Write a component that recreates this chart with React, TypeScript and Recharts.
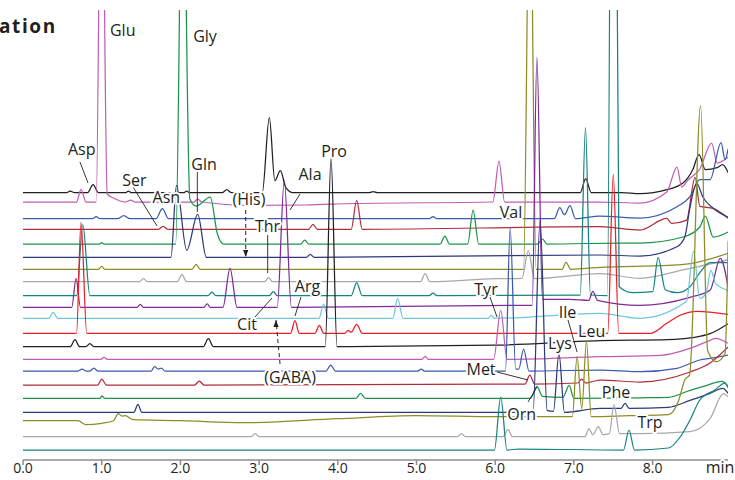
import React from 'react';
import { LineChart, Line, XAxis, YAxis, ReferenceLine, ReferenceDot } from 'recharts';

type Pt = [number, number];

const FONT = "'Open Sans', 'Noto Sans', sans-serif";
const INK = '#231f20';

// retention time (min) vs. signal above each run's own baseline, top run first
const run01: Pt[] = [[0, 0], [0.55, 0], [0.6, 1.5], [0.66, 0], [0.82, 0], [0.89, 8], [0.96, 0], [1.3, 0], [1.34, 1.5], [1.38, 0], [2.04, 0], [2.08, 1.5], [2.12, 0], [2.53, 0], [2.59, 3], [2.65, 0], [3.04, 0], [3.13, 75], [3.2, 12], [3.27, 22], [3.34, 5], [3.43, 0], [4.4, 0], [4.45, 1], [4.5, 0], [7.08, 0], [7.15, 14], [7.22, 0], [7.6, 0], [7.84, -1], [8.18, 3], [8.39, 10], [8.51, 23], [8.59, 38], [8.67, 23], [8.82, 25], [8.89, 28], [8.96, 20]];
const run02: Pt[] = [[0, 0], [0.68, 0], [0.737, 12.7], [0.8, 0], [0.93, 0], [0.997, 420], [1.07, 8], [1.15, 4], [1.3, 0], [1.37, 2], [1.42, 0], [2.17, 0], [2.22, 3], [2.27, 0], [2.9, -3.5], [3.6, -3], [4.2, -1.5], [5.97, 0], [6.048, 41], [6.12, 0], [7.33, 0], [7.84, -1], [8.18, 10], [8.31, 35], [8.37, 15], [8.45, 22], [8.6, 33], [8.75, 59], [8.82, 39], [8.96, 45]];
const run03: Pt[] = [[0, 0], [0.88, 0], [0.93, 2], [0.98, 0], [1.2, 0], [1.28, 3], [1.36, 0], [1.69, 0], [1.77, 10], [1.85, 0], [5.16, 0], [5.21, 2], [5.26, 0], [6.75, 0], [6.82, 11], [6.88, 4], [6.95, 13], [7.02, 0], [7.33, 2.5], [7.84, 0.7], [8.31, 12], [8.475, 22], [8.6, 39], [8.73, 39], [8.87, 76], [8.92, 59], [8.96, 70]];
const run04: Pt[] = [[0, 0], [1.72, 0], [1.78, 3], [1.84, 0], [3.63, 0], [3.685, 5], [3.74, 0], [4.17, 0], [4.24, 29], [4.31, 0], [7.33, 2.6], [7.84, -0.7], [8.18, 11], [8.24, 6], [8.43, 9], [8.54, 52], [8.6, 23], [8.77, 21], [8.96, 11]];
const run05: Pt[] = [[0, 0], [0.97, 0], [1.0, 1.5], [1.03, 0], [1.94, 0], [2.03, 420], [2.12, 45], [2.2, 38], [2.38, 47], [2.47, 10], [2.55, 0], [3.53, 0], [3.58, 4], [3.63, 0], [5.3, 0], [5.36, 8], [5.42, 0], [5.65, 0], [5.72, 34], [5.79, 0], [6.54, 0], [6.6, 5], [6.66, 0], [7.6, 1], [7.84, 1], [8.39, 7], [8.6, 17], [8.67, 28], [8.77, 7], [8.96, 12]];
const run06: Pt[] = [[0, 0], [1.88, 0], [1.95, 72], [2.08, 7], [2.22, 43], [2.33, 0], [3.6, 0], [3.65, 3], [3.7, 0], [7.33, 2.3], [7.84, 1.3], [8.31, 10.6], [8.41, 20.6], [8.475, 50], [8.56, 74], [8.64, 60], [8.77, 49], [8.96, 40]];
const run07: Pt[] = [[0, 0], [0.96, 0], [1.0, 3], [1.04, 0], [2.15, 0], [2.2, 5], [2.25, 0], [6.36, 0], [6.44, 420], [6.52, 0], [6.85, 0], [6.9, 7], [6.96, 0], [7.33, 2], [8.2, 4], [8.5, 6], [8.96, 16]];
const run08: Pt[] = [[0, 0], [1.48, 0], [1.53, 3], [1.58, 0], [1.96, 0], [2.02, 7], [2.08, 0], [3.07, 0], [3.12, 4], [3.17, 0], [5.05, 0], [5.11, 8], [5.17, 0], [6.0, 3], [6.34, 3.4], [6.42, 31], [6.5, 3], [7.33, 8], [7.84, 3.4], [8.4, 12], [8.96, 22]];
const run09: Pt[] = [[0, 0], [0.68, 0], [0.76, 71], [0.85, 0], [2.35, 0], [2.4, 3.5], [2.45, 0], [3.13, 0], [3.18, 4], [3.23, 0], [4.17, 0], [4.24, 13], [4.31, 0], [5.16, 0], [5.21, 2.5], [5.26, 0], [7.08, 0.7], [7.147, 168], [7.21, 0.7], [7.425, 0], [7.5, 900], [7.575, 9], [7.75, 3], [8.0, 4], [8.07, 38], [8.16, 6], [8.31, 3], [8.475, 9], [8.6, 23], [8.73, 33], [8.96, 33]];
const run10: Pt[] = [[0, 0], [0.62, 0], [0.674, 29], [0.73, 0], [1.45, 0], [1.49, 3], [1.53, 0], [2.3, 0], [2.34, 3.5], [2.38, 0], [2.54, 0], [2.63, 39], [2.72, 0], [3.23, 0], [3.32, 127], [3.41, 0], [6.2, 2], [6.47, 2], [6.53, 250], [6.6, 8], [6.95, 8], [7.19, 7], [7.24, 16], [7.3, 7], [7.84, 2], [8.475, 10], [8.73, 17], [8.86, 49], [8.96, 20]];
const run11: Pt[] = [[0, 0], [0.33, 0], [0.385, 6], [0.44, 0], [3.76, 0], [3.82, 14], [3.88, 0], [4.7, 0], [4.76, 20], [4.83, 0], [5.91, 0], [5.95, 3], [5.99, 0], [7.33, 5], [7.84, 0], [8.43, 17], [8.52, 67], [8.6, 20], [8.68, 25], [8.74, 48], [8.8, 35], [8.96, 28]];
const run12: Pt[] = [[0, 0], [0.68, 0], [0.737, 111], [0.81, 0], [3.4, 0], [3.456, 12.6], [3.51, 0], [3.71, 0], [3.765, 8], [3.82, 0], [4.09, 0], [4.13, 3], [4.17, 1], [4.24, 9], [4.31, 0], [7.43, 0], [7.5, 159], [7.57, 0], [7.97, 0], [8.18, 10], [8.35, 18], [8.56, 22], [8.96, 19]];
const run13: Pt[] = [[0, 0], [0.6, 0], [0.66, 7], [0.72, 0], [0.8, 0], [0.85, 3], [0.9, 0], [2.29, 0], [2.355, 8], [2.42, 0], [3.84, 0], [3.914, 189], [3.99, 0], [6.0, 1.5], [7.33, 6], [8.2, 7], [8.5, 9], [8.73, 13], [8.96, 23]];
const run14: Pt[] = [[0, 0], [0.99, 0], [1.03, 2], [1.07, 0], [5.07, 0], [5.11, 3], [5.15, 0], [5.98, 0], [6.07, 49], [6.15, 0], [7.33, 2.6], [8.1, 4], [8.475, 11], [8.73, 19], [8.8, 21], [8.96, 16]];
const run15: Pt[] = [[0, 0], [0.7, 0], [0.75, 2], [0.8, 0], [0.85, 0], [0.9, 3], [0.95, 0], [1.63, 0], [1.67, 4.3], [1.72, 2], [1.76, 3], [1.8, 0], [3.85, 0], [3.91, 6], [3.97, 0], [5.02, 0], [5.06, 2], [5.1, 0], [6.13, 0], [6.19, 143], [6.26, 2], [6.3, 2], [6.36, 22], [6.43, 0], [7.33, 1], [7.84, -0.7], [8.31, 2.7], [8.6, 11], [8.73, 12.7], [8.96, 16]];
const run16: Pt[] = [[0, 0], [0.95, 0], [1.0, 6], [1.06, 0], [2.18, 0], [2.24, 4], [2.3, 0], [6.0, 1], [6.38, 1], [6.44, 10], [6.5, 1], [7.05, 2], [7.1, 6], [7.15, 2], [7.33, 5], [7.84, 3], [8.475, 13], [8.73, 22], [8.96, 38]];
const run17: Pt[] = [[0, 0], [0.98, 0], [1.0, 2.5], [1.04, 0], [4.23, 0], [4.29, 5], [4.35, 0], [6.45, 0], [6.53, 12], [6.6, 2], [6.86, 1], [6.94, 13], [7.0, 0], [7.84, 0.5], [8.2, 1], [8.475, 8], [8.65, 12], [8.88, 17], [8.96, 12]];
const run18: Pt[] = [[0, 0], [1.41, 0], [1.46, 8], [1.51, 0], [6.48, 0], [6.57, 192], [6.66, 2], [6.74, 1], [6.81, 59], [6.88, 0], [7.33, 4], [7.6, 4], [7.65, 9], [7.7, 4], [8.2, 5], [8.475, 12], [8.73, 19], [8.89, 24], [8.96, 19]];
const run19: Pt[] = [[0, 0], [0.7, 0], [0.8, -4], [1.0, -2.6], [1.15, 0], [1.21, 7], [1.26, 4.7], [1.3, 5], [1.4, 1], [2.0, 0], [2.8, -2], [4.0, 2], [5.0, 5], [6.0, 4], [6.98, 4], [7.04, 64], [7.1, 12], [7.16, 79], [7.22, 4], [7.7, 5], [8.2, 6], [8.33, 20], [8.41, 41], [8.47, 46], [8.61, 315], [8.7, 70], [8.81, 59], [8.92, 67], [8.96, 180]];
const run20: Pt[] = [[0, 0], [2.9, 0], [2.95, 3], [3.0, 0], [5.52, 0], [5.57, 3], [5.62, 0], [6.1, 0], [6.16, 7], [6.22, 0], [7.14, 0], [7.19, 8], [7.24, 2], [7.31, 10], [7.37, 2], [7.45, 3], [7.51, 32], [7.58, 3], [7.84, 3], [8.475, 5], [8.73, 18], [8.9, 43], [8.96, 40]];
const run21: Pt[] = [[0, 0], [5.99, 0], [6.07, 53], [6.15, 0], [6.3, 1], [7.63, 0], [7.7, 20], [7.77, 0], [8.2, 2], [8.35, 13], [8.475, 30], [8.6, 50], [8.79, 60], [8.92, 67], [8.96, 62]];

const runs = [run01, run02, run03, run04, run05, run06, run07, run08, run09, run10, run11, run12, run13, run14, run15, run16, run17, run18, run19, run20, run21];

// vertical stacking of the runs (signal units), same order as runs
const runOffsets = [267.3, 258, 241.3, 230.7, 216, 202.7, 190.7, 178.3, 164.3, 152.7, 141.7, 126.7, 113.3, 100.7, 89, 75, 61.7, 47.7, 39.3, 23.3, 10];

const runColors = [
  INK, '#c25db5', '#3b5bb0', '#b02e3a', '#1d9548', '#2b3a7a', '#8d8c25',
  '#a8a8a8', '#168482', '#7f2a96', '#6dc8dc', '#ee1c25', INK, '#c25db5',
  '#3b5bb0', '#b02e3a', '#1d9548', '#2b3a7a', '#8d8c25', '#a8a8a8', '#168482',
];

const timeTicks = [0, 1, 2, 3, 4, 5, 6, 7, 8];

// peak names, placed in (time, signal) units
const peakNames = [
  { text: 'Asp', t: 0.746, v: 305 },
  { text: 'Glu', t: 1.267, v: 424 },
  { text: 'Gly', t: 2.313, v: 418 },
  { text: 'Ser', t: 1.414, v: 274 },
  { text: 'Asn', t: 1.821, v: 257 },
  { text: 'Gln', t: 2.3, v: 290 },
  { text: '(His)', t: 2.872, v: 255 },
  { text: 'Thr', t: 3.107, v: 228 },
  { text: 'Ala', t: 3.647, v: 280 },
  { text: 'Pro', t: 3.952, v: 303 },
  { text: 'Arg', t: 3.615, v: 168 },
  { text: 'Cit', t: 2.846, v: 130 },
  { text: '(GABA)', t: 3.393, v: 77 },
  { text: 'Tyr', t: 5.883, v: 165 },
  { text: 'Val', t: 6.201, v: 242 },
  { text: 'Met', t: 5.82, v: 85 },
  { text: 'Lys', t: 6.823, v: 111 },
  { text: 'Ile', t: 6.919, v: 142 },
  { text: 'Leu', t: 7.226, v: 123 },
  { text: 'Orn', t: 6.337, v: 40 },
  { text: 'Phe', t: 7.535, v: 62 },
  { text: 'Trp', t: 7.967, v: 32 },
];

const leaders = [
  { a: [0.724, 298], b: [0.826, 277] },
  { a: [1.398, 273], b: [1.703, 234] },
  { a: [2.215, 288], b: [2.215, 248] },
  { a: [3.109, 225], b: [3.109, 187] },
  { a: [3.52, 266], b: [3.393, 250] },
  { a: [3.532, 163], b: [3.456, 144] },
  { a: [2.948, 143], b: [3.164, 162] },
  { a: [5.934, 163], b: [6.023, 143] },
  { a: [6.023, 88], b: [6.417, 80] },
  { a: [6.925, 140], b: [7.04, 108] },
  { a: [6.417, 58], b: [6.531, 73] },
];

// dashed arrows: tail -> tip
const arrows = [
  { a: [2.83, 250], b: [2.83, 203] },
  { a: [3.266, 96], b: [3.215, 140] },
];

const TimeTick = ({ x, y, payload }: any) => (
  <text x={x} y={y + 8} textAnchor="middle" fontSize={14} fill={INK} fontFamily={FONT}>
    {Number(payload.value).toFixed(1)}
  </text>
);

const nameShape = (text: string) => (p: any) => (
  <text
    x={p.cx}
    y={p.cy}
    textAnchor="middle"
    fontSize={16}
    fill={INK}
    fontFamily={FONT}
    stroke="#fff"
    strokeWidth={4}
    strokeLinejoin="round"
    paintOrder="stroke"
  >
    {text}
  </text>
);

const arrowHead = (up: boolean) => (p: any) => (
  <path
    d={up ? `M${p.cx},${p.cy} l-2.6,7 l5.2,0 z` : `M${p.cx},${p.cy} l-2.6,-7 l5.2,0 z`}
    fill={INK}
  />
);

export default function App() {
  return (
    <div style={{ position: 'absolute', left: 0, top: 0, width: 735, height: 480, background: '#fff' }}>
      <LineChart width={735} height={480} margin={{ top: 10, right: 7, bottom: 0, left: 23 }}>
        <XAxis
          type="number"
          dataKey="t"
          domain={[0, 8.958]}
          ticks={timeTicks}
          allowDataOverflow
          height={20}
          tickSize={5}
          tickMargin={0}
          tick={<TimeTick />}
          axisLine={{ stroke: '#8c8c8c', strokeWidth: 1.5 }}
          tickLine={{ stroke: '#8c8c8c', strokeWidth: 1.5 }}
        />
        <YAxis hide type="number" domain={[0, 450]} allowDataOverflow />
        {runs.map((run, i) => (
          <Line
            key={i}
            data={run.map(([t, s]) => ({ t, v: runOffsets[i] + s }))}
            dataKey="v"
            type="monotone"
            stroke={runColors[i]}
            strokeWidth={1.25}
            dot={false}
            activeDot={false}
            isAnimationActive={false}
          />
        ))}
        {leaders.map((l, i) => (
          <ReferenceLine
            key={'l' + i}
            segment={[{ x: l.a[0], y: l.a[1] }, { x: l.b[0], y: l.b[1] }]}
            stroke={INK}
            strokeWidth={0.9}
            ifOverflow="visible"
          />
        ))}
        {arrows.map((l, i) => (
          <ReferenceLine
            key={'a' + i}
            segment={[{ x: l.a[0], y: l.a[1] }, { x: l.b[0], y: l.b[1] }]}
            stroke={INK}
            strokeWidth={1}
            strokeDasharray="4 3"
            ifOverflow="visible"
          />
        ))}
        {arrows.map((l, i) => (
          <ReferenceDot
            key={'h' + i}
            x={l.b[0]}
            y={l.b[1]}
            r={0}
            ifOverflow="visible"
            shape={arrowHead(l.b[1] > l.a[1])}
          />
        ))}
        {peakNames.map((n) => (
          <ReferenceDot key={n.text} x={n.t} y={n.v} r={0} ifOverflow="visible" shape={nameShape(n.text)} />
        ))}
        <ReferenceDot x={8.856} y={-13} r={0} ifOverflow="visible" shape={nameShape('min')} />
      </LineChart>
      <svg width={735} height={480} style={{ position: 'absolute', left: 0, top: 0, pointerEvents: 'none' }}>
        <text x={-1} y={33} fontSize={19} fontWeight="bold" letterSpacing={1.6} fill={INK} fontFamily={FONT}>
          ation
        </text>
      </svg>
    </div>
  );
}
